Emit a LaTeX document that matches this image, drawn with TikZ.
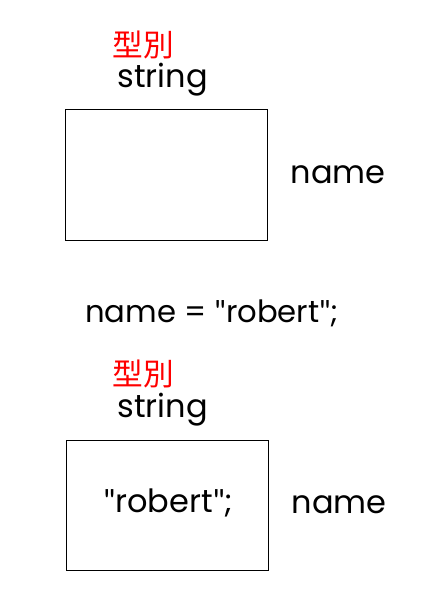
\documentclass[tikz,border=0pt]{standalone}
\usepackage{fontspec}
\setmainfont{Poppins}
\newfontfamily\cjk{Noto Sans CJK TC}
\newfontfamily\quotefont{Lato}
\newcommand\dq{{\quotefont"}}
\begin{document}
\begin{tikzpicture}[x=0.75pt,y=0.75pt]
\tikzstyle{every node}+=[inner sep=0pt]
\tikzset{
  typelbl/.style={text=red,font=\cjk\fontsize{23pt}{23pt}\selectfont},
  codetxt/.style={anchor=base,font=\fontsize{24pt}{24pt}\selectfont},
  varbox/.style={draw=black,line width=0.75pt,minimum width=151.5pt,minimum height=97.5pt}
}
\useasboundingbox (0,0) rectangle (448,-599);
% before the assignment
\node [typelbl] (type1) at (143,-44.5) {型別};
\node [codetxt] (str1) at (162.5,-88) {string};
\node [varbox] (box1) at (166,-175) {};
\node [codetxt] (name1) at (338,-183) {name};
% the assignment
\node [codetxt,font=\fontsize{23pt}{23pt}\selectfont] (assign) at (212,-322) {name = \dq robert\dq;};
% after the assignment
\node [typelbl] (type2) at (143.5,-373.5) {型別};
\node [codetxt] (str2) at (162.5,-417) {string};
\node [varbox] (box2) at (167,-505) {};
\node [codetxt] (val2) at (168.5,-512) {\dq robert\dq;};
\node [codetxt] (name2) at (339,-513) {name};
\end{tikzpicture}
\end{document}
